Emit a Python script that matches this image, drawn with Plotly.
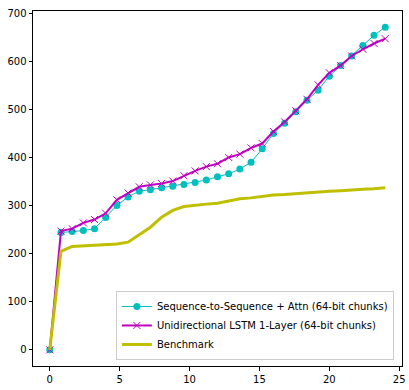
import plotly.graph_objects as go

x_vals = [round(i * 0.8, 1) for i in range(31)]

seq_attn = [0, 244, 246, 248, 252, 275, 300, 318, 330, 333, 337, 340, 344, 348, 353, 360,
            366, 376, 390, 418, 450, 471, 495, 519, 540, 569, 591, 611, 633, 654, 671]
lstm = [0, 247, 252, 264, 271, 284, 312, 326, 339, 343, 346, 351, 362, 372, 381, 387,
        400, 407, 420, 429, 454, 474, 497, 521, 551, 576, 591, 611, 625, 637, 647]
benchmark = [0, 205, 215, 216, 217, 218, 220, 224, 239, 255, 276, 290, 298, 301, 303, 305,
             309, 314, 316, 319, 322, 323, 325, 327, 329, 330, 331, 333, 334, 335, 337]

names = ["Sequence-to-Sequence + Attn (64-bit chunks)",
         "Unidirectional LSTM 1-Layer (64-bit chunks)",
         "Benchmark"]
x_ticks = [0, 5, 10, 15, 20, 25]
y_ticks = [0, 100, 200, 300, 400, 500, 600, 700]

fig = go.Figure()
fig.add_trace(go.Scatter(x=x_vals, y=seq_attn, name=names[0], mode="lines+markers",
                         line=dict(color="#00bfbf", width=1),
                         marker=dict(symbol="circle", size=7, color="#00bfbf")))
fig.add_trace(go.Scatter(x=x_vals, y=lstm, name=names[1], mode="lines+markers",
                         line=dict(color="#bf00bf", width=2),
                         marker=dict(symbol="x-thin", size=7, color="#bf00bf",
                                     line=dict(color="#bf00bf", width=1))))
fig.add_trace(go.Scatter(x=x_vals, y=benchmark, name=names[2], mode="lines",
                         line=dict(color="#bfbf00", width=3)))

axis_common = dict(showgrid=False, zeroline=False, showline=True, linecolor="black",
                   linewidth=1, mirror=True, ticks="outside", ticklen=3.5, tickwidth=1,
                   tickcolor="black", tickfont=dict(size=10, color="black"),
                   automargin=False)
fig.update_xaxes(range=[-1.2, 25.2], tickvals=x_ticks, **axis_common)
fig.update_yaxes(range=[-33.55, 704.55], tickvals=y_ticks, **axis_common)

fig.update_layout(
    width=409, height=390,
    margin=dict(l=33, r=7, t=11, b=24),
    plot_bgcolor="white", paper_bgcolor="white",
    font=dict(family="DejaVu Sans", size=10, color="black"),
    showlegend=True,
    legend=dict(x=0.978, xanchor="right", y=0.017, yanchor="bottom",
                bgcolor="rgba(255,255,255,0.8)", bordercolor="#cccccc", borderwidth=1,
                font=dict(size=10), itemwidth=30, tracegroupgap=0),
)

fig.write_html("out.html", config={"displayModeBar": False})

with open("out.html", "r", encoding="utf-8") as f:
    html = f.read()
html = html.replace("<head>", "<head><style>html,body{margin:0;padding:0;overflow:hidden;}</style>", 1)
with open("out.html", "w", encoding="utf-8") as f:
    f.write(html)
